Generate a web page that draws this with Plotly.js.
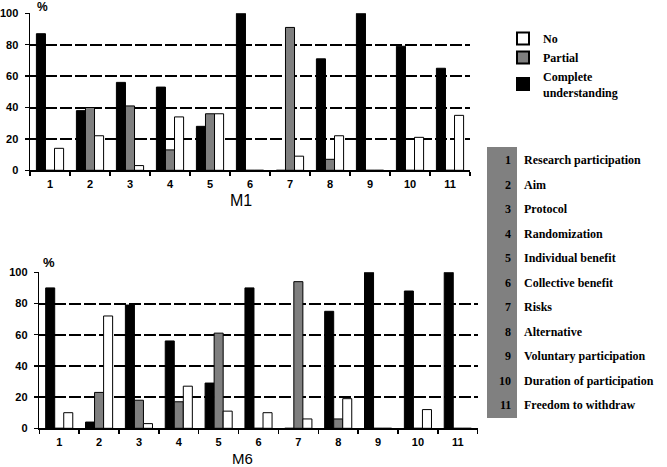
<!DOCTYPE html>
<html>
<head>
<meta charset="utf-8">
<script src="https://cdn.plot.ly/plotly-3.0.1.min.js"></script>
<style>html,body{margin:0;padding:0;background:#fff}#chart{width:667px;height:467px}</style>
</head>
<body>
<div id="chart"></div>
<script>
const categories = ["1","2","3","4","5","6","7","8","9","10","11"];
const seriesNames = ["No", "Partial", "Complete<br>understanding"];
// M1 panel
const m1Complete = [87, 38, 56, 53, 28, 100, 0, 71, 100, 79, 65];
const m1Partial  = [0, 40, 41, 13, 36, 0, 91, 7, 0, 0, 0];
const m1No       = [14, 22, 3, 34, 36, 0, 9, 22, 0, 21, 35];
// M6 panel
const m6Complete = [90, 4, 79, 56, 29, 90, 0, 75, 100, 88, 100];
const m6Partial  = [0, 23, 18, 17, 61, 0, 94, 6, 0, 0, 0];
const m6No       = [10, 72, 3, 27, 11, 10, 6, 19, 0, 12, 0];
const itemLabels = ["Research participation","Aim","Protocol","Randomization","Individual benefit","Collective benefit","Risks","Alternative","Voluntary participation","Duration of participation","Freedom to withdraw"];
const yTicks = [0, 20, 40, 60, 80, 100];

const colors = {complete: "#000000", partial: "#7f7f7f", no: "#ffffff"};
const W = 667, H = 467;
const px = v => v / W, py = v => 1 - v / H;

function bar(y, name, color, xa, ya, show) {
  return {type: "bar", x: categories, y: y, name: name, xaxis: xa, yaxis: ya,
    marker: {color: color, line: {color: "#000", width: 1}}, showlegend: show,
    legendgroup: name, hoverinfo: "y"};
}
const data = [
  bar(m1Complete, seriesNames[2], colors.complete, "x", "y", true),
  bar(m1Partial, seriesNames[1], colors.partial, "x", "y", true),
  bar(m1No, seriesNames[0], colors.no, "x", "y", true),
  bar(m6Complete, seriesNames[2], colors.complete, "x2", "y2", false),
  bar(m6Partial, seriesNames[1], colors.partial, "x2", "y2", false),
  bar(m6No, seriesNames[0], colors.no, "x2", "y2", false)
];

const tickFont = {family: "Liberation Sans, Arial", size: 11, color: "#000", weight: 700};
function xAxis(dom, anchor) {
  return {domain: dom, anchor: anchor, type: "category", showline: true, linecolor: "#000", linewidth: 1.5,
    ticks: "outside", tickson: "boundaries", ticklen: 4, tickcolor: "#000", tickwidth: 1.5,
    tickfont: tickFont, showgrid: false, zeroline: false, fixedrange: true, ticklabelstandoff: 3};
}
function yAxis(dom, anchor) {
  return {domain: dom, anchor: anchor, range: [0, 100], tickvals: yTicks, ticktext: yTicks.map(String),
    showline: true, linecolor: "#000", linewidth: 1.5, ticks: "outside", ticklen: 4, tickcolor: "#000", tickwidth: 1.5,
    tickfont: tickFont, showgrid: true, gridcolor: "#000", gridwidth: 2, griddash: "12px,3px",
    zeroline: false, fixedrange: true, ticklabelstandoff: 4};
}

const serif = {family: "Liberation Serif, Times New Roman", size: 12, color: "#000", weight: 700};
function note(text, x, y, font, xanchor) {
  return {text: text, x: px(x), y: py(y), xref: "paper", yref: "paper", xanchor: xanchor || "center",
    yanchor: "middle", showarrow: false, font: font, borderpad: 0};
}
const annotations = [
  note("<b>%</b>", 42.5, 7, {family: "Liberation Sans, Arial", size: 12, color: "#000"}),
  note("<b>%</b>", 48.5, 262, {family: "Liberation Sans, Arial", size: 13, color: "#000"}),
  note("M1", 241, 200, {family: "Liberation Sans, Arial", size: 16, color: "#000"}),
  note("M6", 243, 458, {family: "Liberation Sans, Arial", size: 15, color: "#000"})
];
const rowTop = 160, rowStep = 24.5;
itemLabels.forEach((lab, i) => {
  const yc = rowTop + i * rowStep;
  annotations.push(note(categories[i], 512, yc, serif, "right"));
  annotations.push(note(lab, 523, yc, serif, "left"));
});

const layout = {
  width: W, height: H, margin: {l: 0, r: 0, t: 0, b: 0}, paper_bgcolor: "#fff", plot_bgcolor: "#fff",
  barmode: "group", bargap: 0.32, bargroupgap: 0,
  xaxis: xAxis([px(30), px(470)], "y"),
  yaxis: yAxis([py(170.3), py(13.3)], "x"),
  xaxis2: xAxis([px(39.3), px(477.7)], "y2"),
  yaxis2: yAxis([py(428.3), py(272.3)], "x2"),
  showlegend: true,
  legend: {x: px(503), y: py(24), xanchor: "left", yanchor: "top", traceorder: "reversed", font: serif,
    bgcolor: "rgba(0,0,0,0)", itemwidth: 30, tracegroupgap: 0, itemsizing: "constant"},
  shapes: [{type: "rect", xref: "paper", yref: "paper", x0: px(487), x1: px(517), y0: py(418), y1: py(147),
    fillcolor: "#808080", line: {width: 0}, layer: "below"}],
  annotations: annotations
};
Plotly.newPlot("chart", data, layout, {displayModeBar: false, staticPlot: true});
</script>
</body>
</html>
